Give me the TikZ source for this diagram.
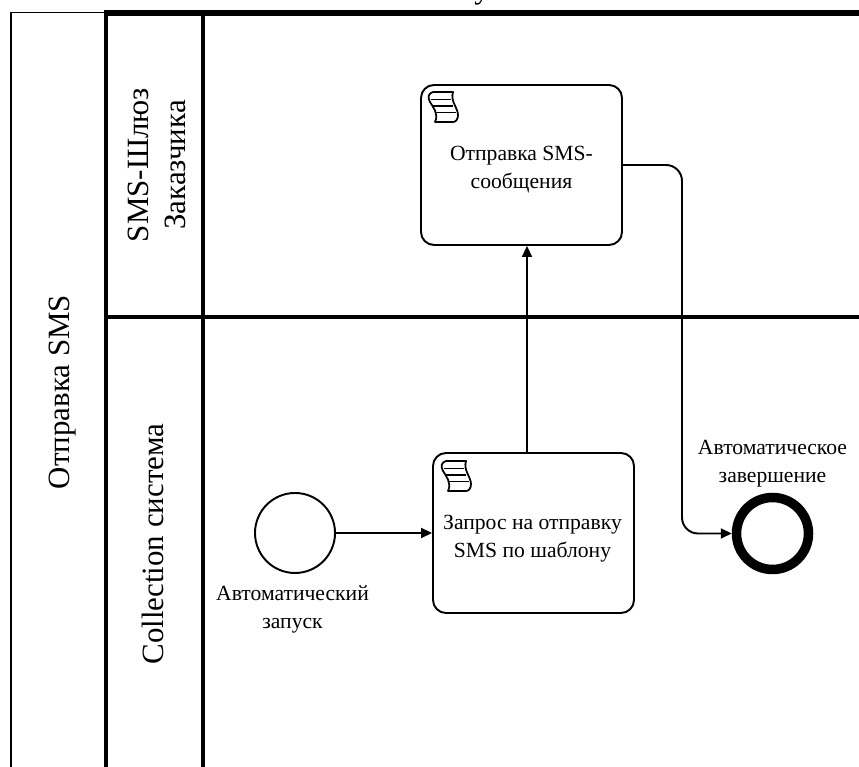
\documentclass[tikz,border=0pt]{standalone}
\usepackage{fontspec}
\setmainfont{Liberation Serif}
\usetikzlibrary{arrows.meta}

\tikzset{
  lane/.style={black, line width=2.5pt},
  pooltext/.style={rotate=90, font=\fontsize{17.6}{22}\selectfont},
  tasknode/.style={draw, rounded corners=0.26cm, line width=1.1pt,
                   minimum width=4.02cm, minimum height=3.2cm},
  tasklabel/.style={align=center, inner sep=0pt, font=\fontsize{12.3}{16}\selectfont},
  flow/.style={line width=1.1pt, -{Stealth[length=2.2mm, width=2mm, inset=0pt]}},
  scripticon/.pic={
    \draw[line width=1pt, line join=round]
      (0.10,0) -- (0.50,0) .. controls (0.44,-0.18) and (0.60,-0.32) .. (0.60,-0.46)
      .. controls (0.60,-0.54) and (0.56,-0.60) .. (0.50,-0.60) -- (0.14,-0.60)
      .. controls (0.22,-0.44) and (0.10,-0.30) .. (0.04,-0.20)
      .. controls (-0.02,-0.10) and (0.02,-0.02) .. (0.10,0);
    \draw[line width=0.9pt] (0.06,-0.15) -- (0.46,-0.15);
    \draw[line width=0.9pt] (0.10,-0.28) -- (0.50,-0.28);
    \draw[line width=0.9pt] (0.16,-0.41) -- (0.56,-0.41);
  }
}

\begin{document}
\begin{tikzpicture}
\useasboundingbox (0,0) rectangle (17.18,15.34);

% Pool and lanes
\draw[black, line width=1.1pt] (2.12,15.09) -- (0.22,15.09) -- (0.22,0);
\draw[lane] (2.12,0) -- (2.12,15.08);
\draw[lane, line width=2.1pt] (4.06,0) -- (4.06,15.08);
\draw[black, line width=3pt] (2.08,15.08) -- (17.18,15.08);
\draw[lane] (2.12,9.00) -- (17.18,9.00);

% Cut off title
\node[anchor=base, inner sep=0pt, font=\fontsize{17.6}{22}\selectfont] (titleend) at (9.64,15.36) {у};

% Pool and lane titles
\node[pooltext] (pooltitle) at (1.25,7.50) {Отправка SMS};
\node[pooltext] (gatewaytitle) at (2.76,12.04) {SMS-Шлюз};
\node[pooltext] (customertitle) at (3.50,12.04) {Заказчика};
\node[pooltext] (systemtitle) at (3.06,4.46) {Collection система};

% Tasks
\node[tasknode] (sendtask) at (10.43,12.04) {};
\node[tasknode] (requesttask) at (10.67,4.68) {};
\pic at (8.56,13.50) {scripticon};
\pic at (8.82,6.12) {scripticon};
\node[tasklabel] (sendlabel) at (10.43,11.94) {Отправка SMS-\\сообщения};
\node[tasklabel] (requestlabel) at (10.65,4.56) {Запрос на отправку\\SMS по шаблону};

% Events
\node[draw, circle, line width=1.1pt, minimum size=1.6cm] (startevent) at (5.90,4.68) {};
\node[draw, circle, line width=5.4pt, minimum size=1.44cm] (endevent) at (15.45,4.67) {};
\node[tasklabel] (startlabel) at (5.85,3.16) {Автоматический\\запуск};
\node[tasklabel] (endlabel) at (15.45,6.06) {Автоматическое\\завершение};

% Flows
\coordinate (upline) at (10.54,8);
\coordinate (downline) at (13.64,8);
\draw[flow] (startevent) -- (requesttask);
\draw[flow] (requesttask.north -| upline) -- (sendtask.south -| upline);
\draw[flow, rounded corners=0.32cm] (sendtask.east) -| (downline) |- (endevent.west);

\end{tikzpicture}
\end{document}
